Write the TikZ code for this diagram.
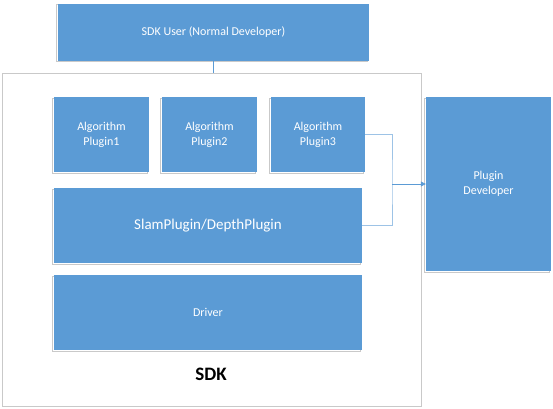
\documentclass[tikz,border=0pt]{standalone}
\usepackage{fontspec}
\setmainfont{Carlito}
\usetikzlibrary{arrows.meta}
\definecolor{boxblue}{HTML}{5B9BD5}
\definecolor{lineblue}{HTML}{5B9BD5}
\definecolor{lightline}{HTML}{9DC3E6}
\definecolor{framegray}{HTML}{C9C9C9}
\begin{document}
\begin{tikzpicture}[x=1pt,y=-1pt,
  bluebox/.style={rectangle, fill=boxblue, draw=none, inner sep=0pt, align=center,
    text=white, font=\fontsize{12}{15}\selectfont,
    preaction={draw=framegray, line width=0.8pt, transform canvas={xshift=-2pt,yshift=-1pt}}},
  outerbox/.style={rectangle, draw=framegray, line width=0.9pt, fill=white, inner sep=0pt},
  conn/.style={draw=lineblue, line width=0.7pt},
  lconn/.style={draw=lightline, line width=0.7pt}
]
\useasboundingbox (0,0) rectangle (553,408);
\node[outerbox, minimum width=419pt, minimum height=333pt] (sdk) at (211.5,239.5) {};
\node[bluebox, minimum width=311pt, minimum height=57pt] (user) at (213.5,32) {SDK User (Normal Developer)};
\node[bluebox, minimum width=95pt, minimum height=75pt] (p1) at (101.5,134.5) {Algorithm\\Plugin1};
\node[bluebox, minimum width=95pt, minimum height=75pt] (p2) at (209.5,134.5) {Algorithm\\Plugin2};
\node[bluebox, minimum width=94pt, minimum height=75pt] (p3) at (318,134.5) {Algorithm\\Plugin3};
\node[bluebox, minimum width=308pt, minimum height=75pt, font=\fontsize{15}{18}\selectfont] (slam) at (208,225.5) {SlamPlugin/DepthPlugin};
\node[bluebox, minimum width=308pt, minimum height=75pt] (drv) at (208,312.5) {Driver};
\node[bluebox, minimum width=125pt, minimum height=174pt] (dev) at (488.5,184) {Plugin\\Developer};
\node[font=\bfseries\fontsize{19}{22}\selectfont] (lbl) at (211,374) {SDK};
\coordinate (bx) at (392,184);
\draw[conn] (user.south) -- (user.south |- sdk.north);
\draw[lconn] (p3.east) -| (bx) |- (slam.east);
\draw[conn, -{Triangle[length=5pt,width=5pt]}] (bx) -- (dev.west);
\end{tikzpicture}
\end{document}
